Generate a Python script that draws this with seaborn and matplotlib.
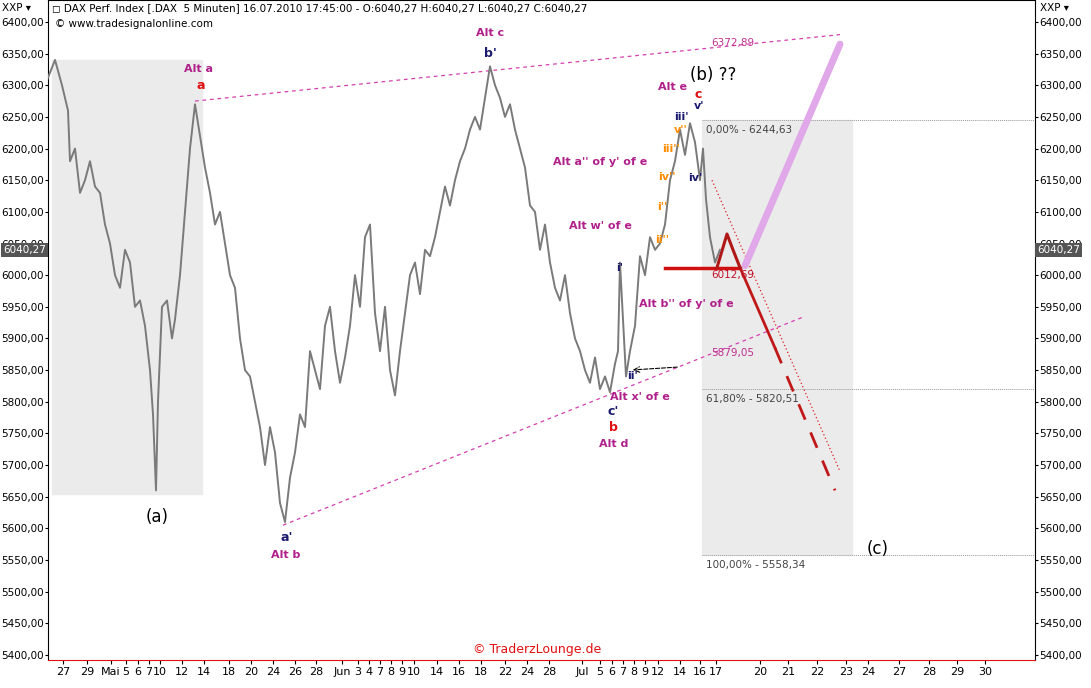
import matplotlib
matplotlib.use("Agg")
import matplotlib.pyplot as plt
import seaborn as sns
import pandas as pd

# price path (x = session position on time axis, close price)
px = [45,55,62,68,70,75,80,85,90,95,100,105,110,115,120,125,130,135,140,145,150,153,156,158,162,167,172,175,180,185,190,195,200,205,210,215,220,225,230,235,240,245,250,255,260,265,270,275,280,285,290,295,300,305,310,315,320,325,330,335,340,345,350,355,360,365,370,375,380,385,390,395,400,405,410,415,420,425,430,435,440,445,450,455,460,465,470,475,480,485,490,495,500,505,510,515,520,525,530,535,540,545,550,555,560,565,570,575,580,585,590,595,600,605,610,615,618,620,622,626,630,635,640,645,650,655,660,665,670,675,680,685,690,695,700,703,706,710,715,720]
py = [6300,6340,6300,6260,6180,6200,6130,6150,6180,6140,6130,6080,6050,6000,5980,6040,6020,5950,5960,5920,5850,5780,5660,5800,5950,5960,5900,5930,6000,6100,6200,6270,6220,6170,6130,6080,6100,6050,6000,5980,5900,5850,5840,5800,5760,5700,5760,5720,5640,5610,5680,5720,5780,5760,5880,5850,5820,5920,5950,5880,5830,5870,5920,6000,5950,6060,6080,5940,5880,5950,5850,5810,5880,5940,6000,6020,5970,6040,6030,6060,6100,6140,6110,6150,6180,6200,6230,6250,6230,6280,6330,6300,6280,6250,6270,6230,6200,6170,6110,6100,6040,6080,6020,5980,5960,6000,5940,5900,5880,5850,5830,5870,5820,5840,5815,5860,5880,6020,5960,5840,5880,5920,6030,6000,6060,6040,6050,6080,6150,6180,6230,6190,6240,6210,6150,6200,6120,6060,6020,6040]

tick_pos = [63,87,111,126,138,149,160,182,204,229,251,273,295,316,342,358,369,380,391,402,414,437,459,481,505,527,549,582,600,612,623,634,645,658,680,700,716,760,788,817,846,868,899,929,957,985]
tick_lab = ["27","29","Mai","5","6","7","10","12","14","18","20","24","26","28","Jun","3","4","7","8","9","10","14","16","18","22","24","28","Jul","5","6","7","8","9","12","14","16","17","20","21","22","23","24","27","28","29","30"]
y_ticks = list(range(5400, 6401, 50))

fib_levels = [6244.63, 5820.51, 5558.34]
fib_labels = ["0,00% - 6244,63", "61,80% - 5820,51", "100,00% - 5558,34"]

def fmt(v):
    return f"{v:.2f}".replace(".", ",")

fig = plt.figure(figsize=(10.91, 6.88), dpi=100)
ax = fig.add_axes([48/1091, 28/688, 987/1091, 660/688])
ymin, ymax = 5392, 6434.7
ax.set_xlim(48, 1035); ax.set_ylim(ymin, ymax)

ax.add_patch(plt.Rectangle((52, 5655), 150, 685, color="#ebebeb", zorder=0))
ax.add_patch(plt.Rectangle((702, 5558.34), 150, 6244.63-5558.34, color="#ebebeb", zorder=0))

df = pd.DataFrame({"x": px, "y": py})
sns.lineplot(data=df, x="x", y="y", ax=ax, color="#7a7a7a", lw=1.4, zorder=3)

ax.plot([195, 840], [6275, 6380], ls=(0, (3, 3)), color="#d43fb0", lw=0.9)
ax.plot([283, 805], [5605, 5935], ls=(0, (3, 3)), color="#d43fb0", lw=0.9)

for lv, lb in zip(fib_levels, fib_labels):
    ax.plot([702, 1035], [lv, lv], color="#999999", lw=0.7, ls=(0, (1, 1)))
    ax.text(706, lv - 8, lb, fontsize=7.5, color="#444444", va="top")
ax.text(711, 6362, "6372,89", fontsize=7.5, color="#c0308f")
ax.text(711, 5872, "5879,05", fontsize=7.5, color="#c0308f")
ax.text(711, 5995, "6012,69", fontsize=7.5, color="#c0102a")

ax.plot([665, 740], [6012, 6012], color="#d01010", lw=2.5)
ax.plot([740, 775], [6012, 5885], color="#c01818", lw=2)
ax.plot([775, 835], [5885, 5660], color="#c01818", lw=2, ls=(0, (6, 5)))
ax.plot([712, 840], [6150, 5690], color="#e02020", lw=0.9, ls=(0, (1, 2)))
ax.plot([745, 840], [6015, 6365], color="#e0a8e8", lw=5, solid_capstyle="round")
ax.plot([717, 727, 733, 740], [6012, 6065, 6040, 6012], color="#b01818", lw=2.2)

ax.annotate("", xy=(630, 5850), xytext=(680, 5855),
            arrowprops=dict(arrowstyle="->", ls="--", color="black", lw=0.8))

labels = [
    (198, 6326, "Alt a", "#b0208a", 8, "bold"), (201, 6300, "a", "#e01010", 9, "bold"),
    (490, 6383, "Alt c", "#b0208a", 8, "bold"), (490, 6350, "b'", "#1a1a6e", 9, "bold"),
    (286, 5558, "Alt b", "#b0208a", 8, "bold"), (287, 5585, "a'", "#1a1a6e", 9, "bold"),
    (613, 5785, "c'", "#1a1a6e", 9, "bold"), (613, 5760, "b", "#e01010", 9, "bold"),
    (614, 5733, "Alt d", "#b0208a", 8, "bold"), (640, 5808, "Alt x' of e", "#b0208a", 8, "bold"),
    (600, 6178, "Alt a'' of y' of e", "#b0208a", 8, "bold"), (600, 6077, "Alt w' of e", "#b0208a", 8, "bold"),
    (686, 5955, "Alt b'' of y' of e", "#b0208a", 8, "bold"), (672, 6297, "Alt e", "#b0208a", 8, "bold"),
    (713, 6316, "(b) ??", "black", 12, "normal"), (698, 6285, "c", "#e01010", 9, "bold"),
    (699, 6268, "v'", "#1a1a6e", 8, "bold"), (681, 6250, "iii'", "#1a1a6e", 8, "bold"),
    (681, 6230, "v''", "#ff8c00", 8, "bold"), (671, 6200, "iii''", "#ff8c00", 8, "bold"),
    (667, 6155, "iv''", "#ff8c00", 8, "bold"), (662, 6108, "i''", "#ff8c00", 8, "bold"),
    (662, 6055, "ii''", "#ff8c00", 8, "bold"), (695, 6153, "iv'", "#1a1a6e", 8, "bold"),
    (620, 6012, "i'", "#1a1a6e", 8, "bold"), (632, 5840, "ii'", "#1a1a6e", 8, "bold"),
    (157, 5618, "(a)", "black", 12, "normal"), (878, 5568, "(c)", "black", 12, "normal"),
]
for x, y, t, c, s, w in labels:
    ax.text(x, y, t, color=c, fontsize=s, fontweight=w, ha="center", va="center")

ax.text(537, 5408, "© TraderzLounge.de", color="#e01010", fontsize=9, ha="center", va="center")

ax.set_xticks(tick_pos)
ax.set_xticklabels(tick_lab, fontsize=8)
ax.set_yticks(y_ticks)
ax.set_yticklabels([fmt(v) for v in y_ticks], fontsize=7.5)
ax.tick_params(axis="y", which="both", left=True, right=True, labelleft=True, labelright=True, length=2, pad=1)
ax.tick_params(axis="x", length=3, pad=2)
ax.set_xlabel(""); ax.set_ylabel("")
for s in ax.spines.values():
    s.set_color("black"); s.set_linewidth(0.8)
ax.spines["bottom"].set_color("#e01010")
ax.grid(False)

for side, xx, ha in [(0, 48, "right"), (1, 1035, "left")]:
    ax.text(xx + (-2 if side == 0 else 2), 6040.27, "6040,27", fontsize=7.5, ha=ha, va="center",
            color="white", transform=ax.transData, clip_on=False, zorder=10,
            bbox=dict(boxstyle="square,pad=0.2", fc="#555555", ec="none"))

fig.text(52/1091, 1-8/688, "◻ DAX Perf. Index [.DAX  5 Minuten] 16.07.2010 17:45:00 - O:6040,27 H:6040,27 L:6040,27 C:6040,27",
         fontsize=7.5, va="center")
fig.text(55/1091, 1-24/688, "© www.tradesignalonline.com", fontsize=7.5, va="center")
fig.text(2/1091, 1-8/688, "XXP ▾", fontsize=7.5, va="center")
fig.text(1040/1091, 1-8/688, "XXP ▾", fontsize=7.5, va="center")

fig.savefig("out.png", dpi=100)
